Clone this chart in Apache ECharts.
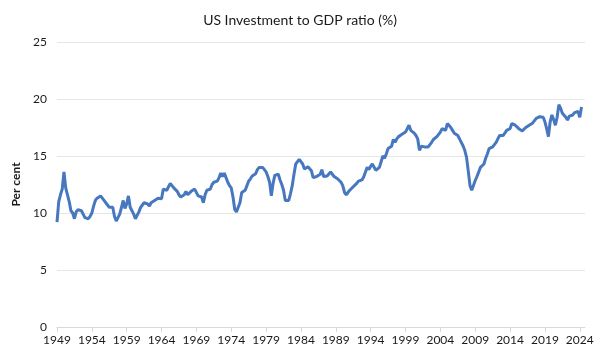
<!DOCTYPE html>
<html>
<head>
<meta charset="utf-8">
<script src="https://cdn.jsdelivr.net/npm/echarts@6/dist/echarts.min.js"></script>
<style>
html,body{margin:0;padding:0;background:#fff;}
#chart{width:600px;height:359px;}
</style>
</head>
<body>
<div id="chart"></div>
<script>
// Tick label years (every 20 quarters)
const years = [1949,1954,1959,1964,1969,1974,1979,1984,1989,1994,1999,2004,2009,2014,2019,2024];
const firstYear = 1949;
const lastYear = 2024;
// Investment to GDP ratio (%), quarterly from 1949Q1
const ratio = [
9.2,11.0,11.6,12.1,13.6,12.2,12.1,11.0,10.2,10.0,
9.5,10.1,10.3,10.3,10.2,9.9,9.6,9.5,9.5,9.7,
10.0,10.6,11.1,11.3,11.4,11.5,11.3,11.1,10.9,10.7,
10.5,10.4,10.5,9.7,9.3,9.2,9.9,10.5,11.1,10.4,
10.8,11.5,10.5,10.4,9.9,9.5,9.6,10.1,10.5,10.7,
10.9,10.9,10.8,10.6,10.9,11.0,11.1,11.2,11.3,11.3,
11.25,12.1,12.0,12.0,12.3,12.6,12.4,12.2,12.1,11.9,
11.6,11.4,11.5,11.6,11.9,11.6,11.5,11.9,11.8,12.1,
12.1,11.5,11.4,11.4,10.9,11.6,12.0,12.1,12.1,12.5,
12.7,12.7,12.8,13.1,13.5,13.2,13.5,13.1,12.7,12.4,
12.2,11.4,10.3,10.1,10.5,10.9,11.8,11.9,12.0,12.4,
12.8,13.0,13.25,13.3,13.45,13.8,14.0,14.0,14.0,14.0,
13.6,13.2,12.7,11.5,12.6,13.3,13.3,13.4,12.9,12.5,
12.0,11.1,11.0,11.1,11.7,12.4,13.4,14.3,14.5,14.7,
14.6,14.3,13.85,14.0,14.05,13.9,13.7,13.1,13.2,13.2,
13.2,13.4,13.8,13.2,13.2,13.25,13.3,13.6,13.4,13.2,
13.1,13.0,12.9,12.7,12.4,11.8,11.6,11.6,12.0,12.1,
12.3,12.4,12.6,12.8,12.85,12.9,13.15,13.6,14.0,13.8,
14.1,14.3,14.0,13.75,13.9,14.0,14.5,15.0,14.8,15.2,
15.65,15.7,15.85,16.45,16.2,16.5,16.7,16.8,16.9,17.0,
17.1,17.0,17.7,17.25,17.2,17.0,16.8,16.5,15.5,15.85,
15.8,15.8,15.8,15.8,15.9,16.2,16.45,16.6,16.7,16.9,
17.1,17.4,17.3,17.25,17.85,17.7,17.5,17.25,17.0,16.9,
16.8,16.5,16.2,15.9,15.5,14.9,13.7,12.4,12.0,12.0,
12.85,13.2,13.6,14.0,14.0,14.3,14.8,15.2,15.65,15.8,
15.8,15.85,16.2,16.5,16.8,16.8,16.8,17.0,17.25,17.3,
17.4,17.85,17.8,17.7,17.55,17.4,17.3,17.2,17.35,17.5,
17.6,17.7,17.8,17.9,18.1,18.3,18.4,18.45,18.4,18.4,
18.0,17.4,16.7,18.0,18.6,18.2,17.7,18.4,19.5,19.2,
18.75,18.6,18.4,18.15,18.5,18.5,18.6,18.8,18.7,18.9,
18.4,19.3
];
// Quarterly categories 1949Q1 .. 2024Q4
const categories = [];
for (let y = firstYear; y <= lastYear; y++) {
  for (let q = 1; q <= 4; q++) categories.push(y + 'Q' + q);
}

const chart = echarts.init(document.getElementById('chart'));
const font = 'Lato, "Open Sans", sans-serif';
chart.setOption({
  animation: false,
  textStyle: { fontFamily: font },
  title: {
    text: 'US Investment to GDP ratio (%)',
    left: 'center',
    top: 8,
    textStyle: { fontFamily: font, fontSize: 14, fontWeight: 'normal', color: '#1a1a1a' }
  },
  grid: { left: 57, right: 15, top: 42, bottom: 32 },
  xAxis: {
    type: 'category',
    data: categories,
    boundaryGap: false,
    axisLine: { lineStyle: { color: '#d9d9d9', width: 1 } },
    axisTick: { show: true, interval: 19, length: 5, lineStyle: { color: '#d9d9d9' } },
    axisLabel: {
      interval: 19,
      color: '#1a1a1a',
      fontSize: 12,
      fontFamily: font,
      margin: 7,
      formatter: v => v.slice(0, 4)
    },
    splitLine: { show: false }
  },
  yAxis: {
    type: 'value',
    min: 0,
    max: 25,
    interval: 5,
    name: 'Per cent',
    nameLocation: 'middle',
    nameRotate: 90,
    nameGap: 30,
    nameTextStyle: { fontFamily: font, fontSize: 12, fontWeight: 'bold', color: '#1a1a1a' },
    axisLine: { show: false },
    axisTick: { show: false },
    axisLabel: { color: '#1a1a1a', fontSize: 12, fontFamily: font, margin: 10 },
    splitLine: { lineStyle: { color: '#e6e6e6', width: 1 } }
  },
  series: [{
    type: 'line',
    data: ratio,
    showSymbol: false,
    symbol: 'none',
    lineStyle: { color: '#4677BF', width: 3 },
    itemStyle: { color: '#4677BF' }
  }]
});
</script>
</body>
</html>
